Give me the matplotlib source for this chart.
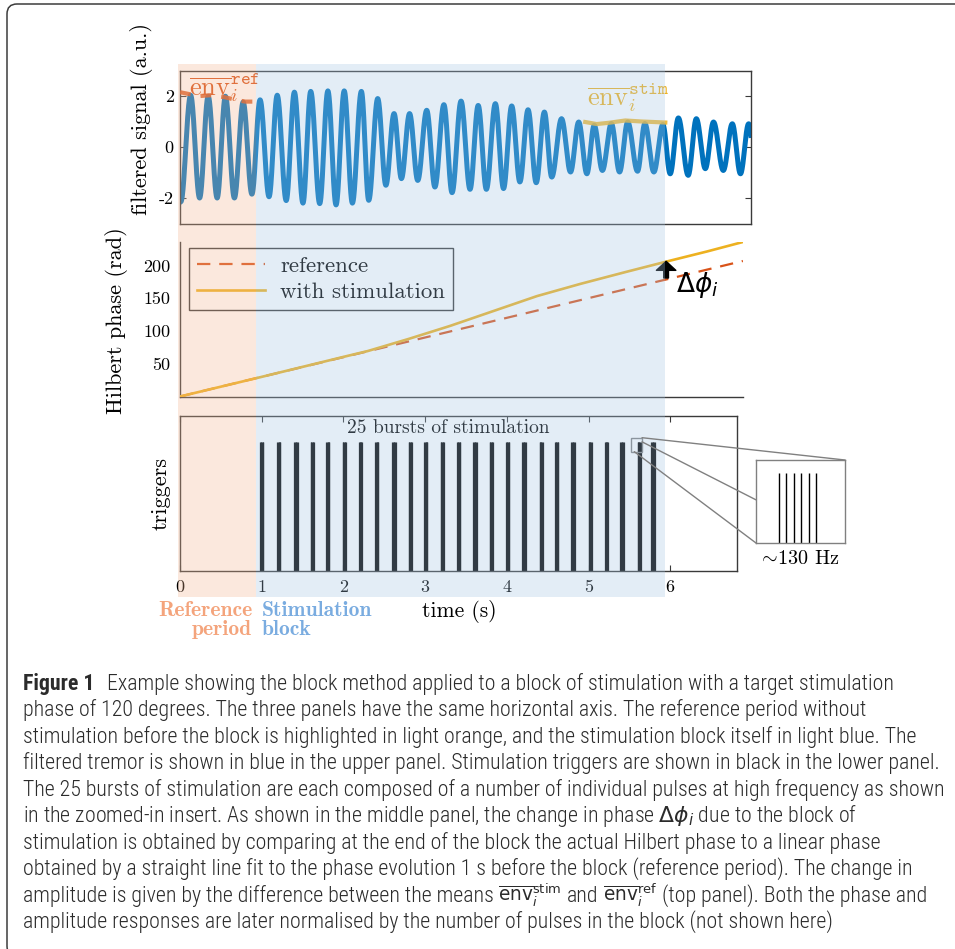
import numpy as np
import matplotlib
matplotlib.use("Agg")
import matplotlib.pyplot as plt
from matplotlib import font_manager
from matplotlib.patches import Rectangle, FancyBboxPatch, ConnectionPatch
from matplotlib.transforms import blended_transform_factory

# ---------------- data ----------------
# filtered tremor, given by its successive extrema (time in s, amplitude in a.u.)
extrema_t = [0.01, 0.13, 0.24, 0.345, 0.455, 0.556, 0.666, 0.773, 0.88, 0.98,
             1.09, 1.19, 1.30, 1.40, 1.505, 1.60, 1.71, 1.81, 1.91, 2.01,
             2.11, 2.22, 2.31, 2.42, 2.52, 2.62, 2.71, 2.81, 2.91, 3.02,
             3.12, 3.23, 3.33, 3.44, 3.55, 3.65, 3.75, 3.86, 3.96, 4.06,
             4.16, 4.26, 4.36, 4.46, 4.55, 4.67, 4.78, 4.88, 4.98, 5.07,
             5.17, 5.28, 5.38, 5.48, 5.60, 5.69, 5.80, 5.91, 6.00, 6.10,
             6.22, 6.32, 6.43, 6.53, 6.65, 6.76, 6.86, 6.96, 7.05]
extrema_v = [-2.15, 2.03, -2.00, 1.99, -2.00, 1.99, -2.00, 1.76, -1.85, 1.85,
             -1.95, 2.03, -2.10, 2.15, -2.20, 2.18, -2.22, 2.20, -2.27, 2.20,
             -2.20, 2.18, -2.09, 1.90, -1.50, 1.31, -1.24, 1.31, -1.31, 1.44,
             -1.57, 1.66, -1.79, 1.80, -1.66, 1.63, -1.66, 1.70, -1.63, 1.61,
             -1.37, 1.46, -1.40, 1.37, -1.18, 1.11, -0.98, 0.98, -1.05, 0.85,
             -0.92, 0.92, -0.98, 0.98, -0.95, 0.92, -0.98, 0.88, -1.05, 1.14,
             -1.11, 1.11, -0.85, 0.98, -0.92, 0.91, -1.05, 0.91, -1.00]

# mean envelopes over the reference period and the last second of the block
env_ref_t = [0.0, 0.12, 0.25, 0.37, 0.55, 0.71, 0.80, 0.93]
env_ref_v = [2.15, 2.07, 2.00, 2.03, 1.95, 1.83, 1.78, 1.78]
env_stim_t = [4.96, 5.10, 5.25, 5.45, 5.65, 5.80, 5.94]
env_stim_v = [0.98, 0.90, 0.95, 1.04, 1.00, 0.98, 0.96]

# Hilbert phase (rad)
phase_stim_t = [0.0, 1.0, 2.0, 2.3, 2.8, 3.3, 3.8, 4.37, 4.9, 5.45, 5.97, 6.45, 6.89]
phase_stim_v = [0.0, 30.0, 60.5, 69.5, 88.0, 107.6, 129.0, 153.4, 172.0, 190.0, 206.6, 221.5, 236.0]
phase_ref_t = [0.0, 6.89]
phase_ref_v = [0.0, 207.0]
dphi_t = 5.95
dphi_from = 181.0
dphi_to = 206.5

# stimulation bursts (centre times, s)
burst_centres = [1.00, 1.21, 1.42, 1.62, 1.81, 2.01, 2.21, 2.41, 2.62, 2.82,
                 3.01, 3.21, 3.41, 3.61, 3.81, 4.01, 4.21, 4.42, 4.61, 4.81,
                 5.02, 5.22, 5.41, 5.62, 5.79]
pulses_per_burst = 6
pulse_rate_hz = 130.0
zoomed_burst = 23

ref_period = (-0.02, 0.935)
stim_block = (0.935, 5.94)

signal_yticks = [-2, 0, 2]
phase_yticks = [50, 100, 150, 200]
time_ticks = [0, 1, 2, 3, 4, 5, 6]

# caption: each line is a list of (text, relative size) pieces
caption_head = "Figure 1"
ENV_STIM = r"$\overline{\mathrm{env}}_i^{\mathrm{stim}}$"
ENV_REF = r"$\overline{\mathrm{env}}_i^{\mathrm{ref}}$"
caption_lines = [
    [("Example showing the block method applied to a block of stimulation with a target stimulation", 1.0)],
    [("phase of 120 degrees. The three panels have the same horizontal axis. The reference period without", 1.0)],
    [("stimulation before the block is highlighted in light orange, and the stimulation block itself in light blue. The", 1.0)],
    [("filtered tremor is shown in blue in the upper panel. Stimulation triggers are shown in black in the lower panel.", 1.0)],
    [("The 25 bursts of stimulation are each composed of a number of individual pulses at high frequency as shown", 1.0)],
    [(r"in the zoomed-in insert. As shown in the middle panel, the change in phase $\Delta\phi_i$ due to the block of", 1.0)],
    [("stimulation is obtained by comparing at the end of the block the actual Hilbert phase to a linear phase", 1.0)],
    [("obtained by a straight line fit to the phase evolution 1 s before the block (reference period). The change in", 1.0)],
    [("amplitude is given by the difference between the means", 1.0), (ENV_STIM, 0.85),
     ("and", 1.0), (ENV_REF, 0.85), ("(top panel). Both the phase and", 1.0)],
    [("amplitude responses are later normalised by the number of pulses in the block (not shown here)", 1.0)],
]

# ---------------- style ----------------
BLUE = "#0072BD"
ORANGE = "#D95319"
YELLOW = "#EDB120"
AXC = "#3a3a3a"
SHADE_REF = (242 / 255, 182 / 255, 145 / 255)
SHADE_STIM = (165 / 255, 198 / 255, 228 / 255)
SHADE_ALPHA = 0.3

plt.rcParams["font.family"] = "cmr10"
plt.rcParams["mathtext.fontset"] = "cm"
plt.rcParams["axes.unicode_minus"] = False
plt.rcParams["axes.formatter.use_mathtext"] = True

W, H, DPI = 955, 949, 100
fig = plt.figure(figsize=(W / DPI, H / DPI), dpi=DPI)
fig.patch.set_facecolor("white")

X0 = 180.0
PX_PER_S = 81.7


def box(x0, y0, x1, y1):
    """Pixel box (origin top-left) -> figure fraction rect."""
    return [x0 / W, 1 - y1 / H, (x1 - x0) / W, (y1 - y0) / H]


def half_cosine(tk, vk, n=40):
    ts, vs = [], []
    for i in range(len(tk) - 1):
        s = np.linspace(0, 1, n, endpoint=False)
        ts.append(tk[i] + (tk[i + 1] - tk[i]) * s)
        vs.append(vk[i] + (vk[i + 1] - vk[i]) * (1 - np.cos(np.pi * s)) / 2)
    ts.append([tk[-1]])
    vs.append([vk[-1]])
    return np.concatenate(ts), np.concatenate(vs)


# ---------------- top panel: filtered signal ----------------
ax1 = fig.add_axes(box(X0, 70.5, 751, 223.5))
sig_t, sig_v = half_cosine(extrema_t, extrema_v)
ax1.plot(sig_t, sig_v, color=BLUE, lw=3.6, solid_joinstyle="round", zorder=2)
ax1.plot(env_ref_t, env_ref_v, color=ORANGE, lw=3.0, ls=(0, (2.6, 2.4)), alpha=0.85, zorder=3)
ax1.plot(env_stim_t, env_stim_v, color=YELLOW, lw=3.0, alpha=0.85, zorder=3)
ax1.text(0.11, 2.04, r"$\overline{\mathrm{env}}_i^{\mathtt{ref}}$", color=ORANGE,
         fontsize=19, ha="left", va="baseline", zorder=4)
ax1.text(4.98, 1.64, r"$\overline{\mathrm{env}}_i^{\mathtt{stim}}$", color=YELLOW,
         fontsize=19, ha="left", va="baseline", zorder=4)
ax1.set_xlim(0, (751 - X0) / PX_PER_S)
ax1.set_ylim(-3, 3)
ax1.set_xticks([])
ax1.set_yticks(signal_yticks, [str(v) for v in signal_yticks])
ax1.tick_params(axis="y", direction="in", length=4, width=0.8, color=AXC,
                labelsize=13, pad=4.5, right=True, left=True)
for sp in ax1.spines.values():
    sp.set_color(AXC)
    sp.set_linewidth(1.0)

# ---------------- middle panel: Hilbert phase ----------------
ax2 = fig.add_axes(box(X0, 242, 743, 396.5))
ref_line, = ax2.plot(phase_ref_t, phase_ref_v, color=ORANGE, lw=1.6,
                     ls=(0, (6, 4)), zorder=2)
stim_line, = ax2.plot(phase_stim_t, phase_stim_v, color=YELLOW, lw=1.9, zorder=3)
ax2.annotate("", xy=(dphi_t, dphi_to), xytext=(dphi_t, dphi_from),
             arrowprops=dict(facecolor="black", edgecolor="black", width=3.4,
                             headwidth=14, headlength=6.5, shrink=0), zorder=4)
ax2.text(6.07, 170, r"$\Delta\phi_i$", fontsize=19, math_fontfamily="dejavusans",
         ha="left", va="center")
ax2.set_xlim(0, (743 - X0) / PX_PER_S)
ax2.set_ylim(0, 236)
ax2.set_xticks([])
ax2.set_yticks(phase_yticks, [str(v) for v in phase_yticks])
ax2.tick_params(axis="y", length=0, labelsize=13, pad=7)
ax2.spines["top"].set_visible(False)
ax2.spines["right"].set_visible(False)
for s in ("left", "bottom"):
    ax2.spines[s].set_color(AXC)
    ax2.spines[s].set_linewidth(1.0)
ax2.patch.set_alpha(0)
leg = ax2.legend([ref_line, stim_line], ["reference", "with stimulation"],
                 loc="upper left", bbox_to_anchor=(8.5 / 563, 1 - 6 / 154.5),
                 borderaxespad=0, fontsize=16.5, handlelength=3.0,
                 handletextpad=0.65, borderpad=0.35, labelspacing=0.25,
                 frameon=True, fancybox=False, framealpha=1)
leg.get_frame().set_edgecolor(AXC)
leg.get_frame().set_linewidth(1.0)

# ---------------- bottom panel: triggers ----------------
ax3 = fig.add_axes(box(X0, 416, 737, 571))
offsets = (np.arange(pulses_per_burst) - (pulses_per_burst - 1) / 2) / pulse_rate_hz
pulse_times = np.concatenate([c + offsets for c in burst_centres])
ax3.vlines(pulse_times, 0, 1, color="black", lw=0.9)
ax3.text(3.28, 1.11, "25 bursts of stimulation", fontsize=14, ha="center", va="center")
ax3.set_xlim(0, (737 - X0) / PX_PER_S)
ax3.set_ylim(0, 1.2)
ax3.set_yticks([])
ax3.set_xticks(time_ticks, [str(v) for v in time_ticks])
ax3.tick_params(axis="x", direction="in", length=4, width=0.8, color=AXC,
                labelsize=13, pad=6, top=True, bottom=True)
for sp in ax3.spines.values():
    sp.set_color(AXC)
    sp.set_linewidth(1.0)

# zoom window and insert
zc = burst_centres[zoomed_burst]
win = Rectangle((5.515, 0.924), 0.14, 0.108, facecolor="none", edgecolor="#808080", lw=1.0, zorder=4)
ax3.add_patch(win)
axi = fig.add_axes(box(756, 460, 845, 543))
axi.vlines(zc + offsets, 0, 1, color="black", lw=1.0)
axi.set_xlim(zc + offsets[0] - 0.0233, zc + offsets[0] + 0.0683)
axi.set_ylim(0, 1.18)
axi.set_xticks([])
axi.set_yticks([])
for sp in axi.spines.values():
    sp.set_color("#808080")
    sp.set_linewidth(1.0)
for pa, pb in [((5.655, 1.032), (1.0, 1.0)),
               ((5.655, 1.0), (0.0, 0.52)),
               ((5.56, 0.924), (0.0, 0.0))]:
    con = ConnectionPatch(xyA=pa, coordsA=ax3.transData, xyB=pb, coordsB=axi.transAxes,
                          color="#808080", lw=1.0, zorder=6)
    fig.add_artist(con)
fig.text(799 / W, 1 - 559 / H, r"$\sim\!$130 Hz", fontsize=14.5, ha="center", va="center")

# ---------------- axis labels ----------------
fig.text(141 / W, 1 - 119 / H, "filtered signal (a.u.)", rotation=90, fontsize=16,
         ha="center", va="center")
fig.text(117 / W, 1 - 321 / H, "Hilbert phase (rad)", rotation=90, fontsize=16,
         ha="center", va="center")
fig.text(161 / W, 1 - 493 / H, "triggers", rotation=90, fontsize=16,
         ha="center", va="center")
fig.text(459 / W, 1 - 617 / H, "time (s)", fontsize=15.5, ha="center", va="baseline")
for txt, y in [("Reference", 616.5), ("period", 635)]:
    fig.text(252 / W, 1 - y / H, txt, fontsize=15.5, family="cmb10", color="#F4A47C",
             ha="right", va="baseline")
for txt, y in [("Stimulation", 616.5), ("block", 635)]:
    fig.text(262 / W, 1 - y / H, txt, fontsize=15.5, family="cmb10", color="#7AACE0",
             ha="left", va="baseline")

# ---------------- shaded periods (on top of all panels) ----------------
blend = blended_transform_factory(ax3.transData, fig.transFigure)
for (a, b), col in [(ref_period, SHADE_REF), (stim_block, SHADE_STIM)]:
    fig.add_artist(Rectangle((a, 1 - 597 / H), b - a, (597 - 64) / H, transform=blend,
                             facecolor=col, alpha=SHADE_ALPHA, edgecolor="none", zorder=5))

# ---------------- caption ----------------
avail = {f.name for f in font_manager.fontManager.ttflist}
cap_family = next((f for f in ["Liberation Sans Narrow", "Roboto Condensed",
                               "Open Sans Condensed", "Lato"] if f in avail), "DejaVu Sans")
renderer = fig.canvas.get_renderer()
CAP_COLOR = "#2b2b2b"
CAP_X = 22.5


def text_width(s, size, **kw):
    t = fig.text(0, 0, s, fontsize=size, family=cap_family, weight="light",
                 math_fontfamily="dejavusans", **kw)
    w = t.get_window_extent(renderer).width
    t.remove()
    return w


# widest caption line spans about 916 px
cap_size = 14 * 916 / text_width(caption_lines[3][0][0], 14)
space_w = text_width("a a", cap_size) - text_width("aa", cap_size)

for i, pieces in enumerate(caption_lines):
    yb = 1 - (690 + 26.45 * i) / H
    x = CAP_X
    if i == 0:
        head = fig.text(x / W, yb, caption_head, fontsize=cap_size, family=cap_family,
                        weight="bold", color=CAP_COLOR, va="baseline", ha="left")
        x += head.get_window_extent(renderer).width + 13
    for k, (s, scale) in enumerate(pieces):
        t = fig.text(x / W, yb, s, fontsize=cap_size * scale, family=cap_family,
                     color=CAP_COLOR, weight="light", va="baseline", ha="left",
                     math_fontfamily="dejavusans")
        x += t.get_window_extent(renderer).width + space_w

# rounded frame around the figure
fig.add_artist(FancyBboxPatch((7 / DPI, -0.07), (W + 30 - 7) / DPI, (H - 4) / DPI + 0.07,
                              boxstyle="round,pad=0,rounding_size=0.1",
                              transform=fig.dpi_scale_trans, facecolor="none",
                              edgecolor="#3c3c3c", linewidth=1.1, zorder=10))

fig.savefig("out.png", dpi=DPI)
